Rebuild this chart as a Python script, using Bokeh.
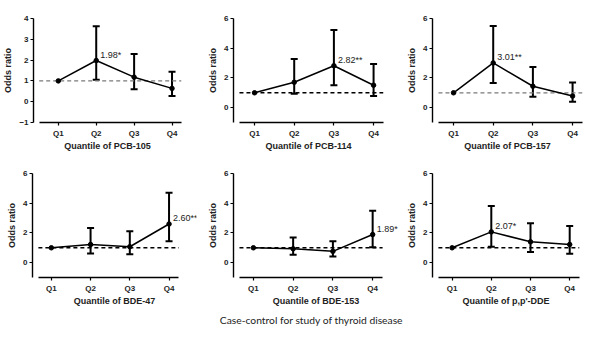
from bokeh.plotting import figure
from bokeh.models import Range1d, Whisker, TeeHead, ColumnDataSource, FixedTicker, Label
from bokeh.layouts import row, column
from bokeh.embed import file_html
from bokeh.resources import INLINE

quantiles = ["Q1", "Q2", "Q3", "Q4"]
reference_or = 1.0

pcb105_or = [1.0, 1.98, 1.18, 0.64]
pcb105_lo = [1.0, 1.05, 0.60, 0.28]
pcb105_hi = [1.0, 3.63, 2.29, 1.44]

pcb114_or = [1.0, 1.71, 2.82, 1.51]
pcb114_lo = [1.0, 0.93, 1.51, 0.78]
pcb114_hi = [1.0, 3.27, 5.22, 2.93]

pcb157_or = [1.0, 3.01, 1.44, 0.78]
pcb157_lo = [1.0, 1.66, 0.73, 0.40]
pcb157_hi = [1.0, 5.50, 2.73, 1.69]

bde47_or = [1.0, 1.22, 1.07, 2.60]
bde47_lo = [1.0, 0.62, 0.56, 1.44]
bde47_hi = [1.0, 2.33, 2.11, 4.71]

bde153_or = [1.0, 0.93, 0.76, 1.89]
bde153_lo = [1.0, 0.53, 0.42, 1.04]
bde153_hi = [1.0, 1.69, 1.44, 3.49]

dde_or = [1.0, 2.07, 1.40, 1.22]
dde_lo = [1.0, 1.07, 0.71, 0.60]
dde_hi = [1.0, 3.82, 2.65, 2.47]

titles = ["Quantile of PCB-105", "Quantile of PCB-114", "Quantile of PCB-157",
          "Quantile of BDE-47", "Quantile of BDE-153", "Quantile of p,p'-DDE"]
sig_labels = ["1.98*", "2.82**", "3.01**", "2.60**", "1.89*", "2.07*"]
sig_index = [1, 2, 1, 3, 3, 1]
caption = "Case-control for study of thyroid disease"

FONT = "Liberation Sans"


def panel(ors, los, his, title, sig, si, height, top, left, x0, spacing, xend, yticks, dash_gray):
    xs = [1, 2, 3, 4]
    frame_w = (xend - x0) * spacing
    right = max(0, int(round(200 - left - frame_w)))
    bounds = (x0 + 0.15, 4.25)
    p = figure(width=200, height=height, output_backend="svg", toolbar_location=None,
               x_range=Range1d(x0, xend), y_range=Range1d(-1, yticks[-1]),
               min_border_left=left, min_border_right=right, min_border_top=top,
               min_border_bottom=height - top - 105)
    p.outline_line_color = None
    p.grid.visible = False
    p.background_fill_color = "white"
    col = "#7a7a7a" if dash_gray else "black"
    lw = 1.2 if dash_gray else 1.6
    p.line(list(bounds), [reference_or, reference_or], line_color=col, line_width=lw, line_dash="4 3")
    src = ColumnDataSource(dict(x=xs[1:], lo=los[1:], hi=his[1:]))
    w = Whisker(source=src, base="x", lower="lo", upper="hi", line_width=2, line_color="black",
                upper_head=TeeHead(size=7, line_width=2, line_color="black"),
                lower_head=TeeHead(size=7, line_width=2, line_color="black"))
    p.add_layout(w)
    p.line(xs, ors, line_color="black", line_width=1.5)
    p.scatter(xs, ors, size=4.5, color="black")
    p.add_layout(Label(x=xs[si], y=ors[si], text=sig, text_font=FONT, text_font_size="9px",
                       text_baseline="middle", text_align="left", x_offset=4, y_offset=6,
                       text_color="#222222"))
    for ax in (p.xaxis[0], p.yaxis[0]):
        ax.axis_line_width = 1.4
        ax.axis_line_color = "black"
        ax.major_tick_line_width = 1.2
        ax.major_tick_line_color = "black"
        ax.major_tick_out = 3
        ax.major_tick_in = 0
        ax.minor_tick_line_color = None
        ax.major_label_text_font = FONT
        ax.major_label_text_font_style = "bold"
        ax.major_label_text_font_size = "8px"
        ax.major_label_text_color = "#222222"
        ax.axis_label_text_font = FONT
        ax.axis_label_text_font_style = "bold"
        ax.axis_label_text_font_size = "9px"
        ax.axis_label_text_color = "#222222"
        ax.major_label_standoff = 2
    p.xaxis.ticker = FixedTicker(ticks=xs)
    p.xaxis.major_label_overrides = {i + 1: q for i, q in enumerate(quantiles)}
    p.xaxis.major_label_standoff = 3
    p.xaxis.axis_label = title
    p.xaxis.axis_label_standoff = 0
    p.xaxis.bounds = bounds
    p.yaxis.ticker = FixedTicker(ticks=yticks)
    p.yaxis.axis_label = "Odds ratio"
    p.yaxis.axis_label_standoff = 3
    return p


p1 = panel(pcb105_or, pcb105_lo, pcb105_hi, titles[0], sig_labels[0], sig_index[0], 158, 17, 26, 0.345, 39.7, 4.25, [-1, 0, 1, 2, 3, 4], True)
p2 = panel(pcb114_or, pcb114_lo, pcb114_hi, titles[1], sig_labels[1], sig_index[1], 158, 18, 33, 0.47, 39.7, 4.25, [0, 2, 4, 6], False)
p3 = panel(pcb157_or, pcb157_lo, pcb157_hi, titles[2], sig_labels[2], sig_index[2], 158, 17, 32, 0.47, 39.7, 4.25, [0, 2, 4, 6], True)
p4 = panel(bde47_or, bde47_lo, bde47_hi, titles[3], sig_labels[3], sig_index[3], 150, 15, 32, 0.52, 39.3, 4.7, [0, 2, 4, 6], False)
p5 = panel(bde153_or, bde153_lo, bde153_hi, titles[4], sig_labels[4], sig_index[4], 150, 15, 33, 0.5, 39.7, 4.65, [0, 2, 4, 6], False)
p6 = panel(dde_or, dde_lo, dde_hi, titles[5], sig_labels[5], sig_index[5], 150, 15, 32, 0.5, 39.3, 4.25, [0, 2, 4, 6], False)

cap = figure(width=600, height=29, output_backend="svg", toolbar_location=None,
             x_range=Range1d(0, 600), y_range=Range1d(0, 29),
             min_border=0, min_border_left=0, min_border_right=0, min_border_top=0, min_border_bottom=0)
cap.axis.visible = False
cap.grid.visible = False
cap.outline_line_color = None
cap.add_layout(Label(x=311, y=18, text=caption, text_font="Lato", text_font_size="10.3px",
                     text_align="center", text_baseline="middle", text_color="#222222"))

layout = column(row(p1, p2, p3), row(p4, p5, p6), cap)
open("out.html", "w").write(file_html(layout, INLINE))
